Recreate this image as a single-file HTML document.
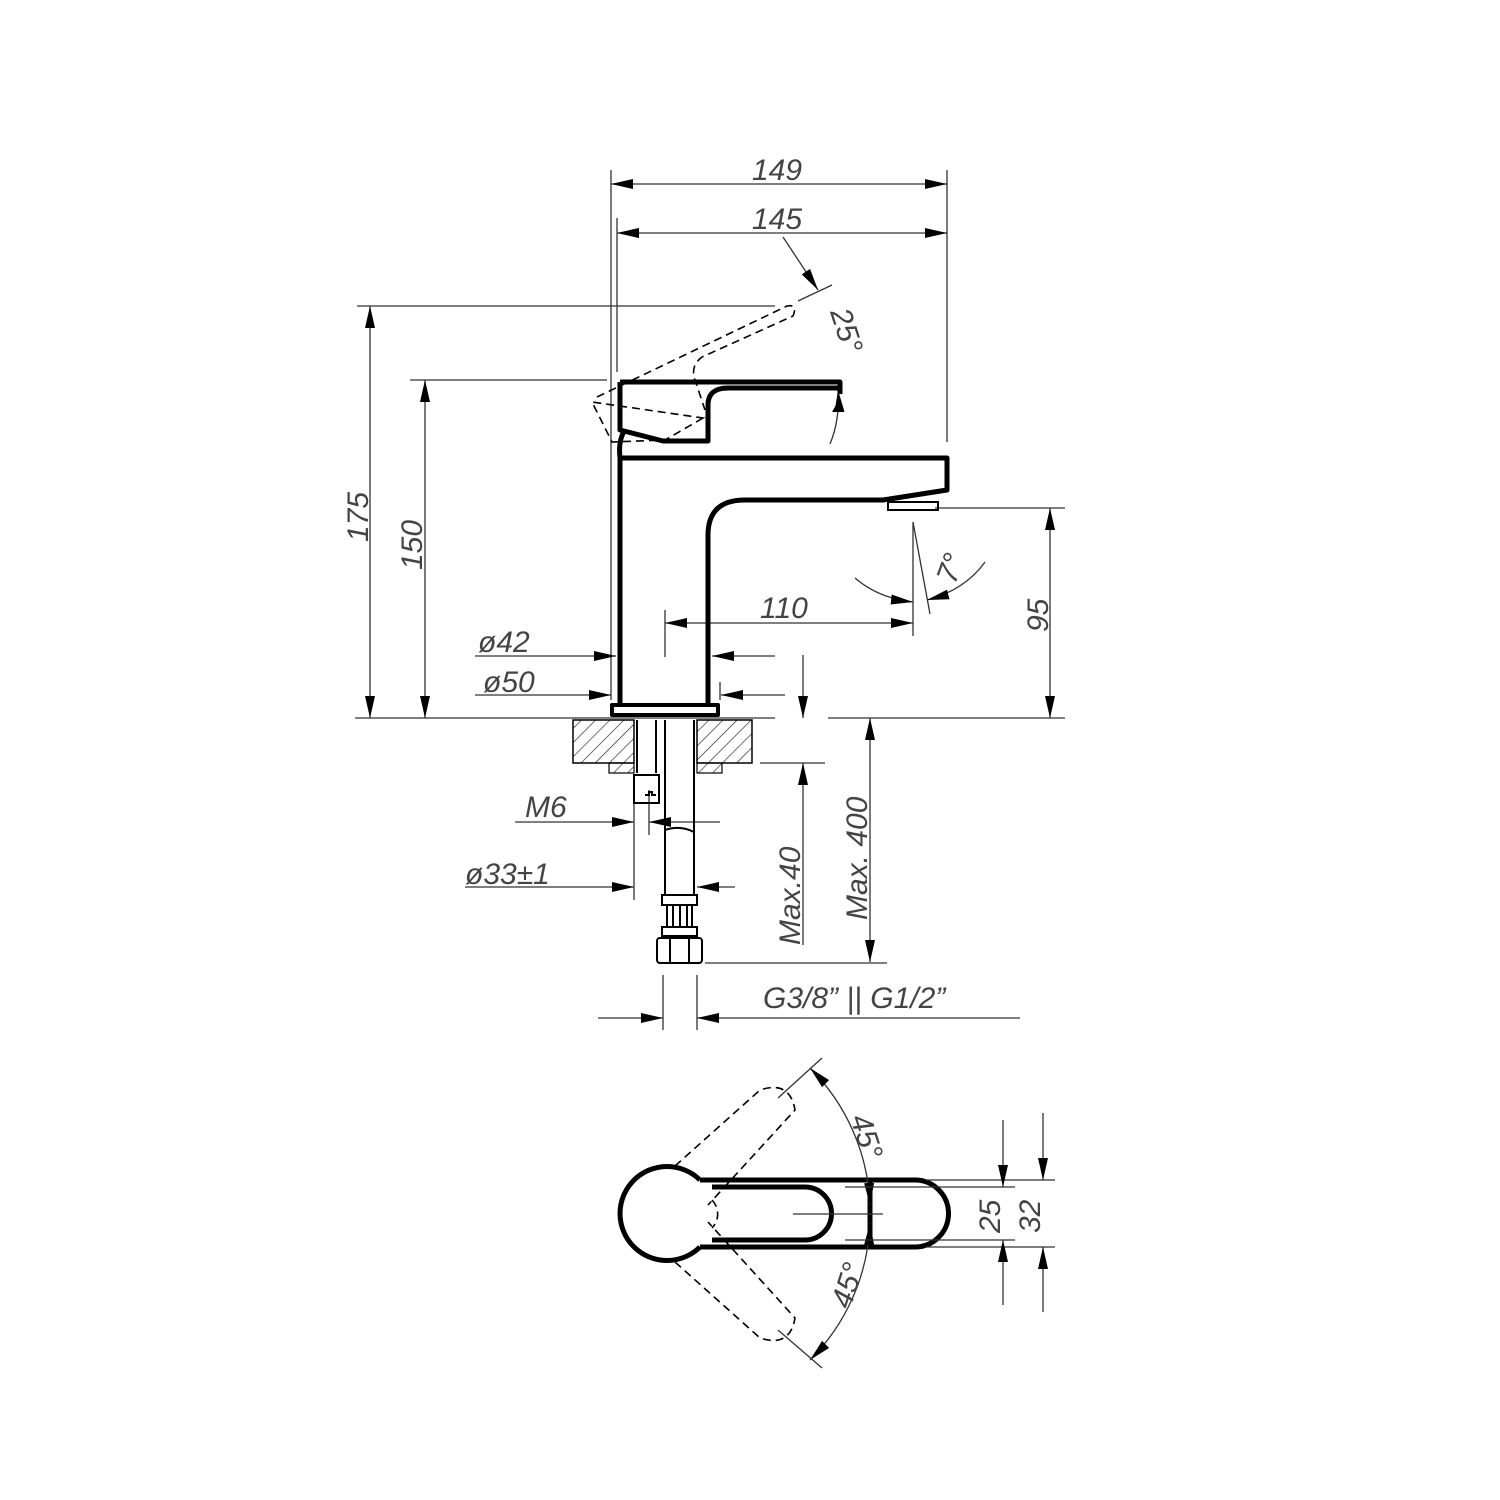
<!DOCTYPE html>
<html><head><meta charset="utf-8"><style>
html,body{margin:0;padding:0;background:#fff;}
svg{display:block;}
text{font-family:"Liberation Sans",sans-serif;font-style:italic;font-size:30px;fill:#444;}
</style></head><body>
<svg width="1500" height="1500" viewBox="0 0 1500 1500" xmlns="http://www.w3.org/2000/svg">
<defs>
<marker id="a" markerWidth="22" markerHeight="10" refX="22" refY="5" orient="auto-start-reverse" markerUnits="userSpaceOnUse"><path d="M0,0 L22,5 L0,10z" fill="#000"/></marker>
<pattern id="h" width="10" height="10" patternUnits="userSpaceOnUse" patternTransform="rotate(45)"><line x1="0" y1="0" x2="0" y2="10" stroke="#222" stroke-width="1.3"/></pattern>
</defs>
<g stroke="#333" stroke-width="1.3" fill="none">
<line x1="611" y1="170" x2="611" y2="700"/>
<line x1="617" y1="218" x2="617" y2="372"/>
<line x1="947" y1="170" x2="947" y2="442"/>
<line x1="357" y1="306" x2="775" y2="306"/>
<line x1="410" y1="380" x2="607" y2="380"/>
<line x1="355" y1="718" x2="775" y2="718"/>
<line x1="828" y1="718" x2="1065" y2="718"/>
<line x1="935" y1="508" x2="1065" y2="508"/>
<line x1="760" y1="763" x2="825" y2="763"/>
<line x1="611" y1="184" x2="947" y2="184" marker-start="url(#a)" marker-end="url(#a)"/>
<line x1="617" y1="233" x2="947" y2="233" marker-start="url(#a)" marker-end="url(#a)"/>
<line x1="370" y1="306" x2="370" y2="718" marker-start="url(#a)" marker-end="url(#a)"/>
<line x1="425" y1="380" x2="425" y2="718" marker-start="url(#a)" marker-end="url(#a)"/>
<line x1="1050" y1="508" x2="1050" y2="718" marker-start="url(#a)" marker-end="url(#a)"/>
<line x1="783" y1="237" x2="818" y2="290" marker-end="url(#a)"/>
<line x1="798" y1="301" x2="832" y2="285"/>
<path d="M830,444 Q840,420 838,390" marker-end="url(#a)"/>
<line x1="913" y1="522" x2="913" y2="636"/>
<line x1="913" y1="522" x2="930" y2="614"/>
<path d="M855,578 Q878,598 913,602" marker-end="url(#a)"/>
<path d="M985,562 Q965,590 927,600" marker-end="url(#a)"/>
<line x1="665" y1="610" x2="665" y2="657"/>
<line x1="665" y1="623" x2="913" y2="623" marker-start="url(#a)" marker-end="url(#a)"/>
<line x1="475" y1="656" x2="616" y2="656" marker-end="url(#a)"/>
<line x1="775" y1="656" x2="712" y2="656" marker-end="url(#a)"/>
<line x1="475" y1="695" x2="611" y2="695" marker-end="url(#a)"/>
<line x1="785" y1="695" x2="721" y2="695" marker-end="url(#a)"/>
<line x1="720" y1="682" x2="720" y2="700"/>
<line x1="803" y1="655" x2="803" y2="718" marker-end="url(#a)"/>
<line x1="803" y1="945" x2="803" y2="763" marker-end="url(#a)"/>
<line x1="870" y1="718" x2="870" y2="962" marker-start="url(#a)" marker-end="url(#a)"/>
<line x1="705" y1="963" x2="887" y2="963"/>
<line x1="515" y1="822" x2="634" y2="822" marker-end="url(#a)"/>
<line x1="720" y1="822" x2="649" y2="822" marker-end="url(#a)"/>
<line x1="465" y1="887" x2="634" y2="887" marker-end="url(#a)"/>
<line x1="735" y1="887" x2="697" y2="887" marker-end="url(#a)"/>
<line x1="634" y1="780" x2="634" y2="900"/>
<line x1="649" y1="790" x2="649" y2="835"/>
<line x1="663" y1="975" x2="663" y2="1030"/>
<line x1="697" y1="975" x2="697" y2="1030"/>
<line x1="598" y1="1018" x2="663" y2="1018" marker-end="url(#a)"/>
<line x1="1020" y1="1018" x2="697" y2="1018" marker-end="url(#a)"/>
</g>
<g stroke="#000" stroke-width="5" fill="none" stroke-linejoin="round">
<path d="M620,382 L840,382 L840,394"/>
<path d="M620,382 L620,430 L663,441 L708,441 L708,405 Q708,388 728,388 L840,388"/>
<path d="M625,430 Q618,440 620,458"/>
<path d="M620,705 L620,458 L947,458 L947,490 L883,500 L745,500 Q708,500 708,535 L708,705"/>
<rect x="612" y="705" width="106" height="10" stroke-width="4"/>
</g>
<path d="M840,398 L832,412 L844,412z" fill="#000"/>
<rect x="888" y="502" width="50" height="8" fill="none" stroke="#000" stroke-width="2"/>
<path d="M597,397 L787,306 Q798,304 793,316 L702,357 Q690,366 695,380 L705,410 M703,418 L665,440 L612,442 L592,402 Z" fill="none" stroke="#000" stroke-width="1.6" stroke-dasharray="8,5"/>
<rect x="573" y="720" width="61" height="43" fill="url(#h)" stroke="#000" stroke-width="1.5"/>
<rect x="697" y="720" width="55" height="43" fill="url(#h)" stroke="#000" stroke-width="1.5"/>
<rect x="609" y="763" width="25" height="10" fill="url(#h)" stroke="#000" stroke-width="1.2"/>
<rect x="697" y="763" width="25" height="10" fill="url(#h)" stroke="#000" stroke-width="1.2"/>
<g stroke="#000" stroke-width="2" fill="none">
<line x1="637" y1="720" x2="637" y2="773"/>
<line x1="656" y1="720" x2="656" y2="773"/>
<line x1="665" y1="720" x2="665" y2="895"/>
<line x1="694" y1="720" x2="694" y2="895"/>
<rect x="634" y="775" width="25" height="28"/>
<path d="M645,795 h4 v-3 h3 v3 h4"/>
<path d="M665,830 Q680,825 694,832"/>
<rect x="662" y="895" width="35" height="10"/>
<line x1="667" y1="905" x2="667" y2="927"/><line x1="673" y1="905" x2="673" y2="927"/>
<line x1="680" y1="905" x2="680" y2="927"/><line x1="687" y1="905" x2="687" y2="927"/><line x1="692" y1="905" x2="692" y2="927"/>
<rect x="662" y="927" width="35" height="9"/>
<rect x="657" y="938" width="45" height="25" rx="3"/>
<line x1="670" y1="938" x2="670" y2="963"/><line x1="689" y1="938" x2="689" y2="963"/>
</g>
<g stroke="#000" stroke-width="5" fill="none">
<path d="M700,1180 L915,1180 A33,33 0 0 1 915,1247 L700,1247"/>
<path d="M712,1187 L805,1187 A26,26 0 0 1 805,1240 L712,1240"/>
<path d="M700,1180 A47,47 0 1 0 700,1247"/>
<line x1="870" y1="1182" x2="870" y2="1245"/>
</g>
<g stroke="#000" stroke-width="1.6" fill="none" stroke-dasharray="8,5">
<path d="M675,1166 L760,1090 Q790,1080 795,1110 L708,1205"/>
<path d="M675,1262 L760,1338 Q790,1348 795,1318 L708,1222"/>
<path d="M712,1200 A20,20 0 0 1 712,1228"/>
</g>
<g stroke="#333" stroke-width="1.3" fill="none">
<line x1="793" y1="1214" x2="883" y2="1214"/>
<path d="M810,1068 A205,205 0 0 1 870,1205" marker-start="url(#a)" marker-end="url(#a)"/>
<path d="M870,1223 A205,205 0 0 1 810,1360" marker-start="url(#a)" marker-end="url(#a)"/>
<line x1="778" y1="1098" x2="822" y2="1058"/>
<line x1="778" y1="1330" x2="822" y2="1368"/>
<line x1="925" y1="1180" x2="1055" y2="1180"/>
<line x1="845" y1="1187" x2="1015" y2="1187"/>
<line x1="845" y1="1240" x2="1015" y2="1240"/>
<line x1="925" y1="1247" x2="1055" y2="1247"/>
<line x1="1003" y1="1120" x2="1003" y2="1187" marker-end="url(#a)"/>
<line x1="1003" y1="1305" x2="1003" y2="1240" marker-end="url(#a)"/>
<line x1="1043" y1="1113" x2="1043" y2="1180" marker-end="url(#a)"/>
<line x1="1043" y1="1312" x2="1043" y2="1247" marker-end="url(#a)"/>
</g>
<text x="752" y="180">149</text>
<text x="752" y="229">145</text>
<text transform="translate(830,312) rotate(72)">25°</text>
<text transform="translate(955,585) rotate(-70)">7°</text>
<text transform="translate(368,542) rotate(-90)">175</text>
<text transform="translate(422,570) rotate(-90)">150</text>
<text transform="translate(1048,632) rotate(-90)">95</text>
<text x="760" y="618">110</text>
<text x="478" y="652">ø42</text>
<text x="483" y="692">ø50</text>
<text x="525" y="817">M6</text>
<text x="465" y="884">ø33±1</text>
<text transform="translate(800,945) rotate(-90)">Max.40</text>
<text transform="translate(867,920) rotate(-90)">Max. 400</text>
<text x="763" y="1008">G3/8”  ||  G1/2”</text>
<text transform="translate(850,1118) rotate(72)">45°</text>
<text transform="translate(850,1310) rotate(-72)">45°</text>
<text transform="translate(1000,1233) rotate(-90)">25</text>
<text transform="translate(1040,1233) rotate(-90)">32</text>
</svg>
</body></html>
